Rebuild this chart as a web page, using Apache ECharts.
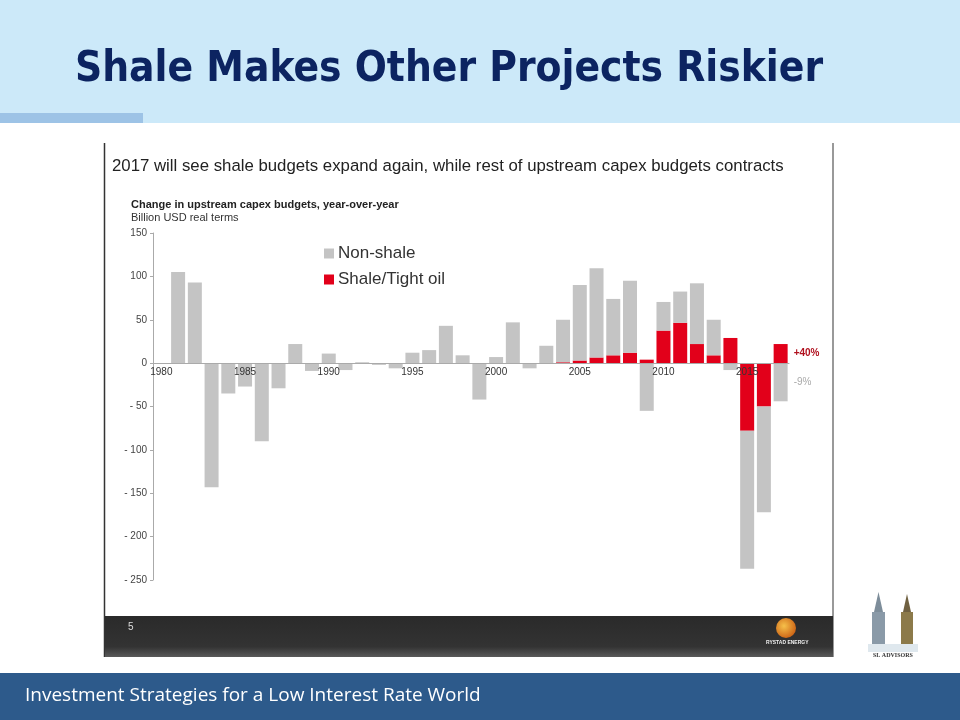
<!DOCTYPE html>
<html>
<head>
<meta charset="utf-8">
<script src="https://cdn.jsdelivr.net/npm/echarts@6/dist/echarts.min.js"></script>
<style>
	html, body { margin: 0; padding: 0; background: #fff; }
	#chart { width: 960px; height: 720px; }
</style>
</head>
<body>
<div id="chart"></div>
<script>
// variação anual do capex upstream (bilhões USD)

const years = [];
for (let y = 1980; y <= 2017; y++) years.push(String(y));

const nonShale = [
	0, 105, 93, -143, -35, -27, -90, -29, 22, -9,
	11, -8, 1, -2, -6, 12, 15, 43, 9, -42,
	7, 47, -6, 20, 49, 87, 103, 65, 83, -55,
	33, 36, 70, 41, -8, -159, -122, -44
];

const shale = [
	0, 0, 0, 0, 0, 0, 0, 0, 0, 0,
	0, 0, 0, 0, 0, 0, 0, 0, 0, 0,
	0, 0, 0, 0, 1, 3, 6.5, 9, 12, 4,
	37.5, 46.5, 22, 9, 29, -78, -50, 22
];

const yTicks = [-250, -200, -150, -100, -50, 0, 50, 100, 150];
const shaleNote = '+40%';
const nonShaleNote = '-9%';

const GRAY = '#c4c4c4';
const RED = '#e2001a';

const lastIdx = years.length - 1;
const yMin = yTicks[0];
const yMax = yTicks[yTicks.length - 1];

// grid e posição da linha do zero (os rótulos do eixo x ficam junto dela)
const grid = { left: 153, right: 171, top: 233, bottom: 140 };
const gridH = 720 - grid.top - grid.bottom;
const zeroOffset = gridH * (0 - yMin) / (yMax - yMin);

const chart = echarts.init(document.getElementById('chart'), null, { renderer: 'canvas' });

const option = {
	animation: false,
	backgroundColor: '#fff',
	textStyle: { fontFamily: 'Liberation Sans, Arial, sans-serif' },
	legend: {
		data: ['Non-shale', 'Shale/Tight oil'],
		orient: 'vertical',
		left: 319,
		top: 240,
		itemWidth: 10,
		itemHeight: 10,
		itemGap: 9,
		icon: 'rect',
		textStyle: { fontSize: 17, color: '#333', padding: [0, 0, 0, -1] }
	},
	grid: Object.assign({ containLabel: false }, grid),
	xAxis: {
		type: 'category',
		data: years,
		position: 'bottom',
		offset: -zeroOffset,
		z: 5,
		axisLine: { onZero: false, lineStyle: { color: '#aaa', width: 1 } },
		axisTick: { show: false },
		axisLabel: { interval: 4, fontSize: 10, color: '#333', margin: 4 }
	},
	yAxis: {
		type: 'value',
		min: yMin,
		max: yMax,
		interval: 50,
		axisLine: { show: true, lineStyle: { color: '#aaa' } },
		axisTick: { show: true, length: 3, lineStyle: { color: '#aaa' } },
		splitLine: { show: false },
		axisLabel: {
			fontSize: 10,
			color: '#444',
			margin: 6,
			formatter: v => (v < 0 ? '- ' + (-v) : String(v))
		}
	},
	series: [
		{
			name: 'Shale/Tight oil',
			type: 'bar',
			stack: 'capex',
			barWidth: 14,
			itemStyle: { color: RED },
			data: shale.map((v, i) => i === lastIdx ? {
				value: v,
				label: {
					show: true, position: 'right', distance: 6, formatter: shaleNote,
					color: '#b0101e', fontSize: 10, fontWeight: 'bold'
				}
			} : v)
		},
		{
			name: 'Non-shale',
			type: 'bar',
			stack: 'capex',
			barWidth: 14,
			itemStyle: { color: GRAY },
			data: nonShale.map((v, i) => i === lastIdx ? {
				value: v,
				label: {
					show: true, position: 'right', distance: 6, formatter: nonShaleNote,
					color: '#aaa', fontSize: 10
				}
			} : v)
		}
	],
	graphic: [
		// cabeçalho
		{ type: 'rect', z: -10, shape: { x: 0, y: 0, width: 960, height: 123 }, style: { fill: '#cce9f9' } },
		{ type: 'rect', z: -9, shape: { x: 0, y: 113, width: 143, height: 10 }, style: { fill: '#9dc3e6' } },
		{
			type: 'text', left: 75, top: 49,
			style: {
				text: 'Shale Makes Other Projects Riskier',
				font: 'bold 42px "DejaVu Sans Condensed", "DejaVu Sans", Tahoma, sans-serif',
				fill: '#0c2461'
			}
		},
		// moldura da imagem
		{ type: 'line', shape: { x1: 104.5, y1: 143, x2: 104.5, y2: 657 }, style: { stroke: '#333', lineWidth: 1.5 } },
		{ type: 'line', shape: { x1: 833, y1: 143, x2: 833, y2: 657 }, style: { stroke: '#555', lineWidth: 1.2 } },
		{
			type: 'text', left: 112, top: 158,
			style: {
				text: '2017 will see shale budgets expand again, while rest of upstream capex budgets contracts',
				font: '16.8px "Liberation Sans", Arial, sans-serif', fill: '#222'
			}
		},
		{
			type: 'text', left: 131, top: 199,
			style: {
				text: 'Change in upstream capex budgets, year-over-year',
				font: 'bold 11px "Liberation Sans", Arial, sans-serif', fill: '#222'
			}
		},
		{
			type: 'text', left: 131, top: 212,
			style: {
				text: 'Billion USD real terms',
				font: '11px "Liberation Sans", Arial, sans-serif', fill: '#333'
			}
		},
		// faixa escura inferior
		{
			type: 'rect', shape: { x: 105, y: 616, width: 728, height: 41 },
			style: {
				fill: new echarts.graphic.LinearGradient(0, 0, 0, 1, [
					{ offset: 0, color: '#2a2a2a' },
					{ offset: 0.75, color: '#333' },
					{ offset: 1, color: '#5a5a5a' }
				])
			}
		},
		{ type: 'text', left: 128, top: 622, style: { text: '5', font: '10px "Liberation Sans", Arial', fill: '#ddd' } },
		{
			type: 'circle', shape: { cx: 786, cy: 628, r: 10 },
			style: {
				fill: new echarts.graphic.RadialGradient(0.4, 0.4, 0.7, [
					{ offset: 0, color: '#f6c04a' },
					{ offset: 1, color: '#c85a10' }
				])
			}
		},
		{ type: 'text', left: 766, top: 640, style: { text: 'RYSTAD ENERGY', font: 'bold 5px "Liberation Sans", Arial', fill: '#eee' } },
		// logo SL Advisors
		{ type: 'rect', shape: { x: 872, y: 612, width: 13, height: 38 }, style: { fill: '#8a9aa8' } },
		{ type: 'polygon', shape: { points: [[874, 612], [878.5, 592], [883, 612]] }, style: { fill: '#7d8d9a' } },
		{ type: 'rect', shape: { x: 901, y: 612, width: 12, height: 38 }, style: { fill: '#8c7a4a' } },
		{ type: 'polygon', shape: { points: [[903, 612], [907, 594], [911, 612]] }, style: { fill: '#6f6040' } },
		{ type: 'rect', shape: { x: 868, y: 644, width: 50, height: 8 }, style: { fill: '#dfe8ee' } },
		{ type: 'text', left: 873, top: 652, style: { text: 'SL ADVISORS', font: 'bold 6px "Liberation Serif", serif', fill: '#333' } },
		// rodapé
		{ type: 'rect', z: -10, shape: { x: 0, y: 673, width: 960, height: 47 }, style: { fill: '#2d5a8b' } },
		{
			type: 'text', left: 25, top: 686,
			style: {
				text: 'Investment Strategies for a Low Interest Rate World',
				font: '19px "Open Sans", Lato, sans-serif', fill: '#fff'
			}
		}
	]
};

chart.setOption(option);
</script>
</body>
</html>
